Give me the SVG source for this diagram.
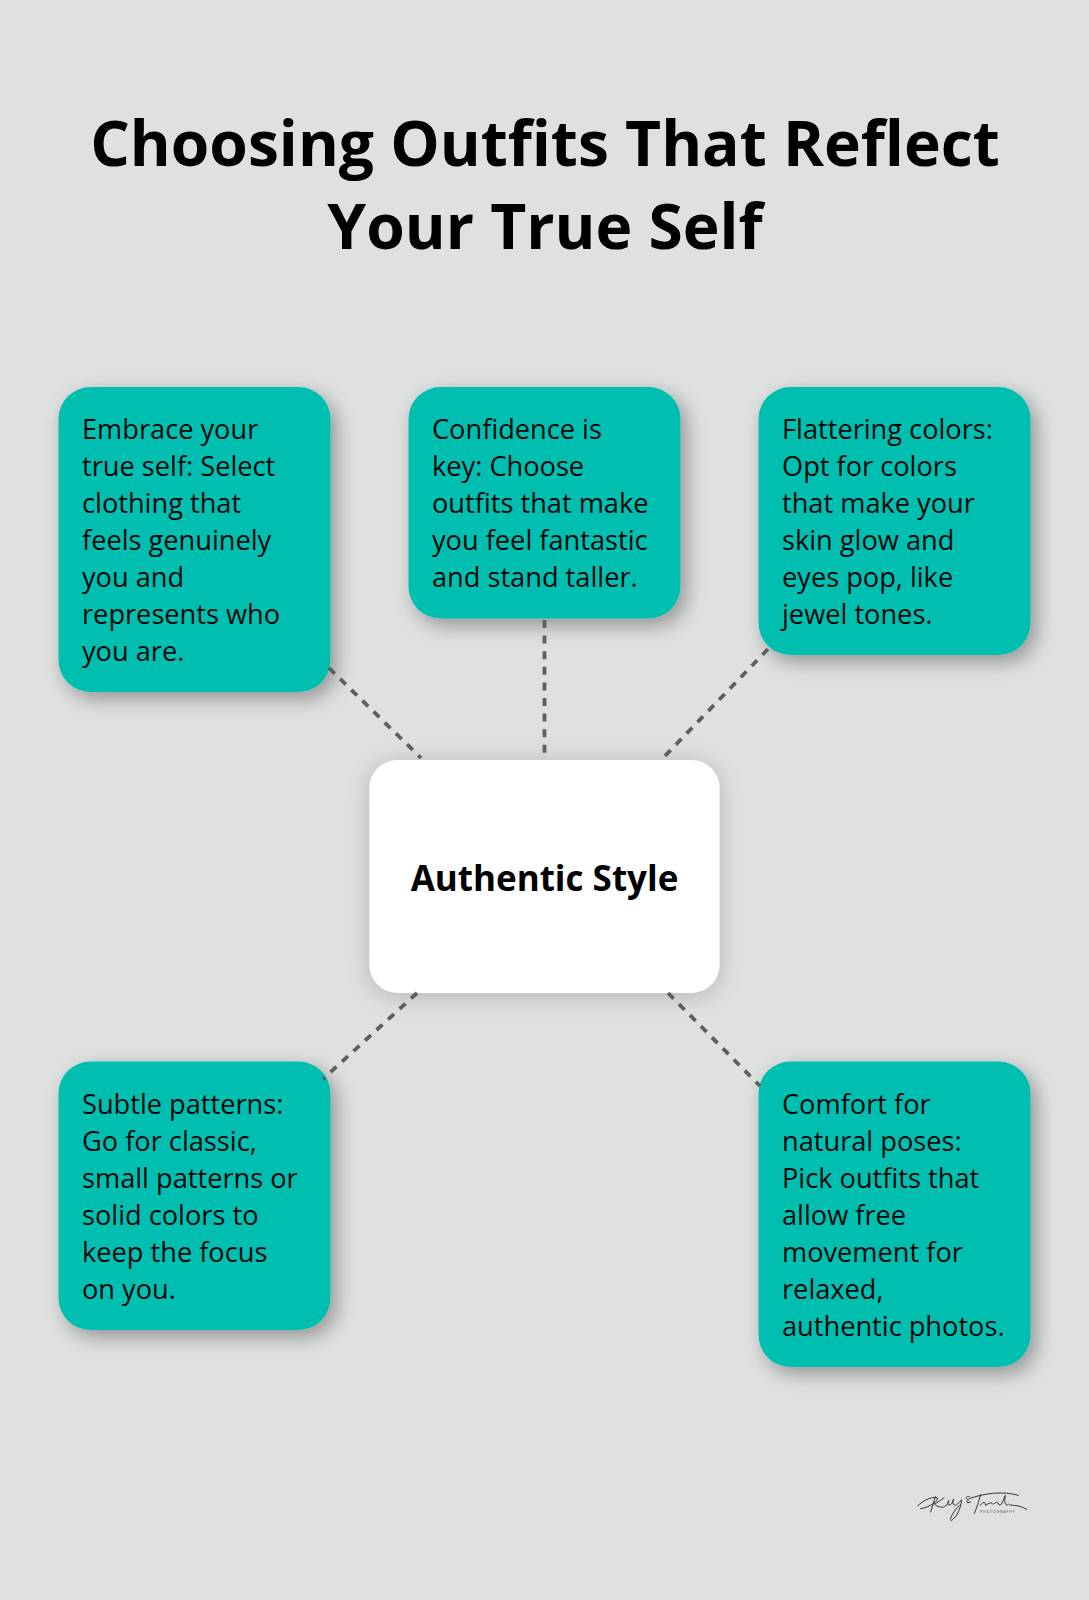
<svg xmlns="http://www.w3.org/2000/svg" width="1089" height="1600" viewBox="0 0 1089 1600">
<defs>
<filter id="sh" x="-20%" y="-20%" width="140%" height="140%"><feDropShadow dx="6" dy="7" stdDeviation="10" flood-color="#000" flood-opacity="0.34"/></filter>
<filter id="shw" x="-20%" y="-20%" width="140%" height="140%"><feDropShadow dx="0" dy="3" stdDeviation="12" flood-color="#000" flood-opacity="0.2"/></filter>
</defs>
<style>
text{font-family:"Open Sans","Noto Sans",sans-serif;fill:#020808}
.t{font-size:27.2px}
.h{font-size:62.3px;font-weight:700;text-anchor:middle;fill:#000}
.c{font-size:35px;font-weight:700;text-anchor:middle;fill:#000}
.b{fill:#00bfb0;filter:url(#sh)}
.l{stroke:#5e5e5e;stroke-width:3.8;stroke-dasharray:8 7.6;fill:none}
</style>
<rect width="1089" height="1600" fill="#dfe1e0"/>
<g id="title"><text class="h" x="545" y="165.500">Choosing Outfits That Reflect</text><text class="h" x="545" y="248.500">Your True Self</text></g>
<g id="node-center"><rect x="369.500" y="760" width="350" height="233" rx="28" fill="#fff" filter="url(#shw)"/><text class="c" x="544.500" y="890.500">Authentic Style</text></g>
<g id="node-embrace"><rect class="b" x="58.500" y="387" width="272" height="305" rx="32"/><text class="t" x="82" y="439">Embrace your</text><text class="t" x="82" y="476">true self: Select</text><text class="t" x="82" y="513">clothing that</text><text class="t" x="82" y="550">feels genuinely</text><text class="t" x="82" y="587">you and</text><text class="t" x="82" y="624">represents who</text><text class="t" x="82" y="661">you are.</text></g>
<g id="node-confidence"><rect class="b" x="408.500" y="387" width="272" height="231.500" rx="32"/><text class="t" x="432" y="439">Confidence is</text><text class="t" x="432" y="476">key: Choose</text><text class="t" x="432" y="513">outfits that make</text><text class="t" x="432" y="550">you feel fantastic</text><text class="t" x="432" y="587">and stand taller.</text></g>
<g id="node-colors"><rect class="b" x="758.500" y="387" width="272" height="268" rx="32"/><text class="t" x="782" y="439">Flattering colors:</text><text class="t" x="782" y="476">Opt for colors</text><text class="t" x="782" y="513">that make your</text><text class="t" x="782" y="550">skin glow and</text><text class="t" x="782" y="587">eyes pop, like</text><text class="t" x="782" y="624">jewel tones.</text></g>
<g id="node-patterns"><rect class="b" x="58.500" y="1061.500" width="272" height="268.500" rx="32"/><text class="t" x="82" y="1114">Subtle patterns:</text><text class="t" x="82" y="1151">Go for classic,</text><text class="t" x="82" y="1188">small patterns or</text><text class="t" x="82" y="1225">solid colors to</text><text class="t" x="82" y="1262">keep the focus</text><text class="t" x="82" y="1299">on you.</text></g>
<g id="node-comfort"><rect class="b" x="758.500" y="1061.500" width="272" height="305.500" rx="32"/><text class="t" x="782" y="1114">Comfort for</text><text class="t" x="782" y="1151">natural poses:</text><text class="t" x="782" y="1188">Pick outfits that</text><text class="t" x="782" y="1225">allow free</text><text class="t" x="782" y="1262">movement for</text><text class="t" x="782" y="1299">relaxed,</text><text class="t" x="782" y="1336">authentic photos.</text></g>
<g id="connectors">
<path class="l" d="M544.500 620V753"/>
<path class="l" d="M329 668L421 758"/>
<path class="l" d="M768 649L664 757"/>
<path class="l" d="M417 993L323 1079"/>
<path class="l" d="M668 993L760 1086"/>
</g>
<g id="logo">
<g transform="translate(880 1470) scale(.3333)" fill="none" stroke="#2c3436" stroke-width="3" stroke-linecap="round" stroke-linejoin="round">
<path d="M113 108C130 88 165 78 172 84C176 92 150 112 122 116"/>
<path d="M166 80L152 126"/>
<path d="M192 84C180 92 170 98 163 102C172 110 184 114 194 110C204 104 208 92 206 92C200 100 204 110 214 102C222 92 222 84 220 88C216 98 220 110 230 104L245 90"/>
<path d="M245 90C242 115 232 140 214 152C206 148 222 122 238 106"/>
<path d="M268 80C258 76 254 88 266 90C256 94 258 102 272 96"/>
<path d="M268 86C310 70 370 62 415 76"/>
<path d="M302 74C296 95 290 115 283 130"/>
<path d="M300 106C310 94 318 94 316 106C326 100 334 96 336 100C340 108 348 92 354 98C354 108 364 106 368 96L376 76C372 96 376 112 386 102C392 110 410 100 440 118"/>
</g>
<text x="980" y="1513" font-size="4" style="letter-spacing:.55px;fill:#555">PHOTOGRAPHY</text>
</g>
</svg>
